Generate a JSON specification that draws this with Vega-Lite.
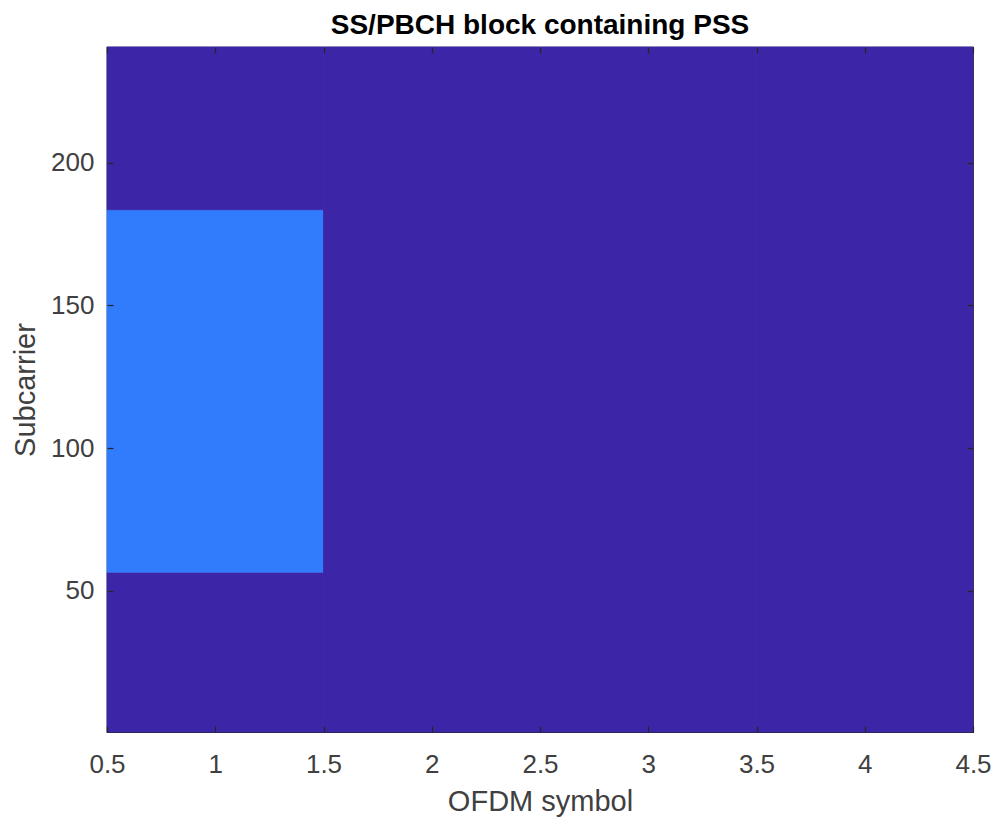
{
  "$schema": "https://vega.github.io/schema/vega-lite/v6.json",
  "autosize": "none",
  "width": 866,
  "height": 685,
  "padding": {"left": 107, "top": 47, "right": 23, "bottom": 87},
  "background": "white",
  "title": {"text": "SS/PBCH block containing PSS", "font": "Liberation Sans", "fontSize": 28, "fontWeight": "bold", "color": "#000000", "offset": 6, "anchor": "middle"},
  "config": {
    "view": {"stroke": "#262626", "strokeWidth": 1.2},
    "axis": {"labelFont": "Liberation Sans", "titleFont": "Liberation Sans", "labelFontSize": 26, "titleFontSize": 29, "labelColor": "#404040", "titleColor": "#404040", "titleFontWeight": "normal", "grid": false, "domain": false, "ticks": true, "tickColor": "#262626", "tickSize": -6, "tickWidth": 1.2, "labelFlush": false}
  },
  "data": {"values": [
    {"sym_lo": 0.5, "sym_hi": 1.5, "sc_lo": 0.5, "sc_hi": 56.5, "value": "0"},
    {"sym_lo": 0.5, "sym_hi": 1.5, "sc_lo": 56.5, "sc_hi": 183.5, "value": "1"},
    {"sym_lo": 0.5, "sym_hi": 1.5, "sc_lo": 183.5, "sc_hi": 240.5, "value": "0"},
    {"sym_lo": 1.5, "sym_hi": 2.5, "sc_lo": 0.5, "sc_hi": 240.5, "value": "0"},
    {"sym_lo": 2.5, "sym_hi": 3.5, "sc_lo": 0.5, "sc_hi": 240.5, "value": "0"},
    {"sym_lo": 3.5, "sym_hi": 4.5, "sc_lo": 0.5, "sc_hi": 240.5, "value": "0"}
  ]},
  "layer": [
    {
      "mark": {"type": "rect", "strokeWidth": 0.8},
      "encoding": {
        "x": {"field": "sym_lo", "type": "quantitative", "scale": {"domain": [0.5, 4.5], "nice": false, "zero": false},
              "axis": {"orient": "bottom", "zindex": 3, "title": "OFDM symbol", "values": [0.5, 1, 1.5, 2, 2.5, 3, 3.5, 4, 4.5], "format": ".1~f", "labelPadding": 25, "titlePadding": 10}},
        "x2": {"field": "sym_hi"},
        "y": {"field": "sc_lo", "type": "quantitative", "scale": {"domain": [0.5, 240.5], "nice": false, "zero": false},
              "axis": {"orient": "left", "zindex": 3, "title": "Subcarrier", "values": [50, 100, 150, 200], "labelPadding": 19, "titlePadding": 10}},
        "y2": {"field": "sc_hi"},
        "color": {"field": "value", "type": "nominal", "scale": {"domain": ["0", "1"], "range": ["#3C26A7", "#307CFC"]}, "legend": null},
        "stroke": {"field": "value", "type": "nominal", "scale": {"domain": ["0", "1"], "range": ["#3C26A7", "#307CFC"]}, "legend": null}
      }
    },
    {
      "mark": {"type": "rect", "opacity": 0},
      "encoding": {
        "x": {"field": "sym_lo", "type": "quantitative", "axis": {"orient": "top", "zindex": 3, "title": null, "labels": false, "values": [0.5, 1, 1.5, 2, 2.5, 3, 3.5, 4, 4.5]}},
        "x2": {"field": "sym_hi"},
        "y": {"field": "sc_lo", "type": "quantitative", "axis": {"orient": "right", "zindex": 3, "title": null, "labels": false, "values": [50, 100, 150, 200]}},
        "y2": {"field": "sc_hi"}
      }
    }
  ],
  "resolve": {"axis": {"x": "independent", "y": "independent"}}
}
